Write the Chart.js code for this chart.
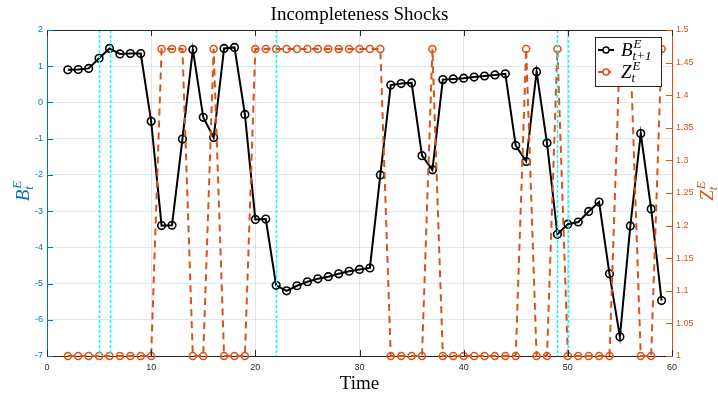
<!DOCTYPE html>
<html>
<head>
<meta charset="utf-8">
<script src="https://cdn.jsdelivr.net/npm/chart.js@4.4.0/dist/chart.umd.min.js"></script>
<style>
  html, body { margin: 0; padding: 0; background: #fff; }
  #wrap { width: 718px; height: 395px; }
</style>
</head>
<body>
<div id="wrap"><canvas id="chart" width="718" height="395"></canvas></div>
<script>
// time periods
var times = [2, 3, 4, 5, 6, 7, 8, 9, 10, 11, 12, 13, 14, 15, 16, 17, 18, 19, 20,
  21, 22, 23, 24, 25, 26, 27, 28, 29, 30, 31, 32, 33, 34, 35, 36, 37, 38, 39, 40,
  41, 42, 43, 44, 45, 46, 47, 48, 49, 50, 51, 52, 53, 54, 55, 56, 57, 58, 59];

// B^E_{t+1} (left axis)
var bValues = [0.90, 0.91, 0.94, 1.22, 1.49, 1.34, 1.35, 1.35, -0.52, -3.40,
  -3.39, -1.01, 1.46, -0.41, -0.97, 1.49, 1.52, -0.33, -3.23, -3.22,
  -5.05, -5.20, -5.06, -4.95, -4.87, -4.81, -4.73, -4.66, -4.61, -4.57,
  -2.00, 0.48, 0.52, 0.54, -1.47, -1.86, 0.63, 0.65, 0.67, 0.70,
  0.73, 0.76, 0.79, -1.19, -1.63, 0.85, -1.12, -3.64, -3.36, -3.30,
  -3.01, -2.75, -4.73, -6.47, -3.41, -0.86, -2.94, -5.47];

// Z^E_t (right axis)
var zValues = [1, 1, 1, 1, 1, 1, 1, 1, 1, 1.471,
  1.471, 1.471, 1, 1, 1.471, 1, 1, 1, 1.471, 1.471,
  1.471, 1.471, 1.471, 1.471, 1.471, 1.471, 1.471, 1.471, 1.471, 1.471,
  1.471, 1, 1, 1, 1, 1.471, 1, 1, 1, 1,
  1, 1, 1, 1, 1.471, 1, 1, 1.471, 1, 1,
  1, 1, 1, 1.471, 1.471, 1, 1, 1.471];

// periods marked with cyan dotted lines
var shockTimes = [5, 6, 22, 49, 50];

var BLUE = "#0072BD";
var ORANGE = "#D95319";
var AXIS = "#262626";

// width of e.g. B^E_t
function mathWidth(ctx, base, sup, sub, size) {
  ctx.font = "italic " + size + "px 'Liberation Serif'";
  var w = ctx.measureText(base).width;
  ctx.font = "italic " + Math.round(size * 0.7) + "px 'Liberation Serif'";
  return w + 1 + Math.max(ctx.measureText(sup).width, ctx.measureText(sub).width);
}

function drawMath(ctx, base, sup, sub, x, y, size, color) {
  ctx.fillStyle = color;
  ctx.textAlign = "left";
  ctx.textBaseline = "alphabetic";
  ctx.font = "italic " + size + "px 'Liberation Serif'";
  ctx.fillText(base, x, y);
  var w = ctx.measureText(base).width;
  var small = Math.round(size * 0.7);
  ctx.font = "italic " + small + "px 'Liberation Serif'";
  ctx.fillText(sup, x + w + 1, y - size * 0.42);
  ctx.fillText(sub, x + w, y + size * 0.22);
}

var decorations = {
  id: "decorations",
  beforeDraw: function (chart) {
    var ctx = chart.ctx;
    ctx.save();
    ctx.fillStyle = "#fff";
    ctx.fillRect(0, 0, chart.width, chart.height);
    ctx.restore();
  },
  afterDatasetsDraw: function (chart) {
    var ctx = chart.ctx;
    var area = chart.chartArea;
    var xs = chart.scales.x;
    var ys = chart.scales.y;
    var y2 = chart.scales.y2;

    // cyan shock markers
    ctx.save();
    ctx.strokeStyle = "#00FFFF";
    ctx.lineWidth = 1.5;
    ctx.setLineDash([3, 2]);
    shockTimes.forEach(function (t) {
      var px = Math.round(xs.getPixelForValue(t)) + 0.5;
      ctx.beginPath();
      ctx.moveTo(px, area.top);
      ctx.lineTo(px, area.bottom);
      ctx.stroke();
    });
    ctx.restore();

    // box top + inward ticks
    ctx.save();
    ctx.lineWidth = 1;
    ctx.strokeStyle = AXIS;
    ctx.beginPath();
    ctx.moveTo(area.left, area.top + 0.5);
    ctx.lineTo(area.right, area.top + 0.5);
    xs.ticks.forEach(function (tk) {
      var px = Math.round(xs.getPixelForValue(tk.value)) + 0.5;
      ctx.moveTo(px, area.bottom);
      ctx.lineTo(px, area.bottom - 6);
      ctx.moveTo(px, area.top);
      ctx.lineTo(px, area.top + 6);
    });
    ctx.stroke();

    ctx.strokeStyle = BLUE;
    ctx.beginPath();
    ys.ticks.forEach(function (tk) {
      var py = Math.round(ys.getPixelForValue(tk.value)) + 0.5;
      ctx.moveTo(area.left, py);
      ctx.lineTo(area.left + 6, py);
    });
    ctx.stroke();

    ctx.strokeStyle = ORANGE;
    ctx.beginPath();
    y2.ticks.forEach(function (tk) {
      var py = Math.round(y2.getPixelForValue(tk.value)) + 0.5;
      ctx.moveTo(area.right - 6, py);
      ctx.lineTo(area.right, py);
    });
    ctx.stroke();
    ctx.restore();
  },
  afterDraw: function (chart) {
    var ctx = chart.ctx;
    var area = chart.chartArea;
    var cx = (area.left + area.right) / 2;
    var cy = (area.top + area.bottom) / 2;
    ctx.save();

    // title and x label
    ctx.fillStyle = "#000";
    ctx.textAlign = "center";
    ctx.textBaseline = "alphabetic";
    ctx.font = "19px 'Liberation Serif'";
    ctx.fillText("Incompleteness Shocks", cx, 20);
    ctx.fillText("Time", cx, 389);

    // y labels (rotated)
    var w = mathWidth(ctx, "B", "E", "t", 19);
    ctx.save();
    ctx.translate(29, cy - 2);
    ctx.rotate(-Math.PI / 2);
    drawMath(ctx, "B", "E", "t", -w / 2, 0, 19, BLUE);
    ctx.restore();

    w = mathWidth(ctx, "Z", "E", "t", 19);
    ctx.save();
    ctx.translate(713, cy - 2);
    ctx.rotate(-Math.PI / 2);
    drawMath(ctx, "Z", "E", "t", -w / 2, 0, 19, ORANGE);
    ctx.restore();

    // legend
    var lx = 595, ly = 37, lw = 66, lh = 49;
    ctx.fillStyle = "#fff";
    ctx.fillRect(lx, ly, lw, lh);
    ctx.strokeStyle = AXIS;
    ctx.lineWidth = 1;
    ctx.strokeRect(lx + 0.5, ly + 0.5, lw, lh);

    var rows = [
      { color: "#000", dash: [], base: "B", sup: "E", sub: "t+1", y: 50 },
      { color: ORANGE, dash: [5, 3], base: "Z", sup: "E", sub: "t", y: 72 }
    ];
    rows.forEach(function (r) {
      ctx.strokeStyle = r.color;
      ctx.lineWidth = 2;
      ctx.setLineDash(r.dash);
      ctx.beginPath();
      ctx.moveTo(598, r.y);
      ctx.lineTo(614, r.y);
      ctx.stroke();
      ctx.setLineDash([]);
      ctx.lineWidth = 1.5;
      ctx.beginPath();
      ctx.arc(606, r.y, 3, 0, Math.PI * 2);
      ctx.fillStyle = "#fff";
      ctx.fill();
      ctx.stroke();
      drawMath(ctx, r.base, r.sup, r.sub, 621, r.y + 6, 19, "#000");
    });
    ctx.restore();
  }
};

var ctx = document.getElementById("chart").getContext("2d");
new Chart(ctx, {
  type: "line",
  data: {
    datasets: [
      {
        label: "B",
        data: times.map(function (t, i) { return { x: t, y: bValues[i] }; }),
        yAxisID: "y",
        borderColor: "#000",
        borderWidth: 2,
        pointRadius: 3.8,
        pointBorderWidth: 1.6,
        pointBorderColor: "#000",
        pointBackgroundColor: "rgba(0,0,0,0)",
        tension: 0,
        clip: false,
        order: 2
      },
      {
        label: "Z",
        data: times.map(function (t, i) { return { x: t, y: zValues[i] }; }),
        yAxisID: "y2",
        borderColor: ORANGE,
        borderWidth: 2,
        borderDash: [7, 5],
        pointRadius: 3.5,
        pointBorderWidth: 1.5,
        pointBorderColor: ORANGE,
        pointBackgroundColor: "rgba(0,0,0,0)",
        tension: 0,
        clip: false,
        order: 1
      }
    ]
  },
  options: {
    responsive: false,
    animation: false,
    layout: { padding: { top: 30, left: 0, right: 0, bottom: 0 } },
    plugins: {
      legend: { display: false },
      tooltip: { enabled: false },
      title: { display: false }
    },
    scales: {
      x: {
        type: "linear",
        min: 0,
        max: 60,
        ticks: {
          stepSize: 10,
          color: AXIS,
          font: { family: "Liberation Sans", size: 9 },
          padding: 6,
          maxRotation: 0
        },
        grid: { color: "rgba(38,38,38,0.12)", drawTicks: false },
        border: { color: AXIS, width: 1 },
        afterFit: function (s) { s.height = 39; }
      },
      y: {
        position: "left",
        min: -7,
        max: 2,
        ticks: {
          stepSize: 1,
          color: BLUE,
          font: { family: "Liberation Sans", size: 9 },
          padding: 4,
          callback: function (v) { return String(v); }
        },
        grid: { color: "rgba(0,114,189,0.15)", drawTicks: false },
        border: { color: BLUE, width: 1 },
        afterFit: function (s) { s.width = 47; }
      },
      y2: {
        position: "right",
        min: 1,
        max: 1.5,
        ticks: {
          stepSize: 0.05,
          color: ORANGE,
          font: { family: "Liberation Sans", size: 9 },
          padding: 4,
          callback: function (v) { return String(Math.round(v * 100) / 100); }
        },
        grid: { display: false, drawTicks: false },
        border: { color: ORANGE, width: 1 },
        afterFit: function (s) { s.width = 46; }
      }
    }
  },
  plugins: [decorations]
});
</script>
</body>
</html>
